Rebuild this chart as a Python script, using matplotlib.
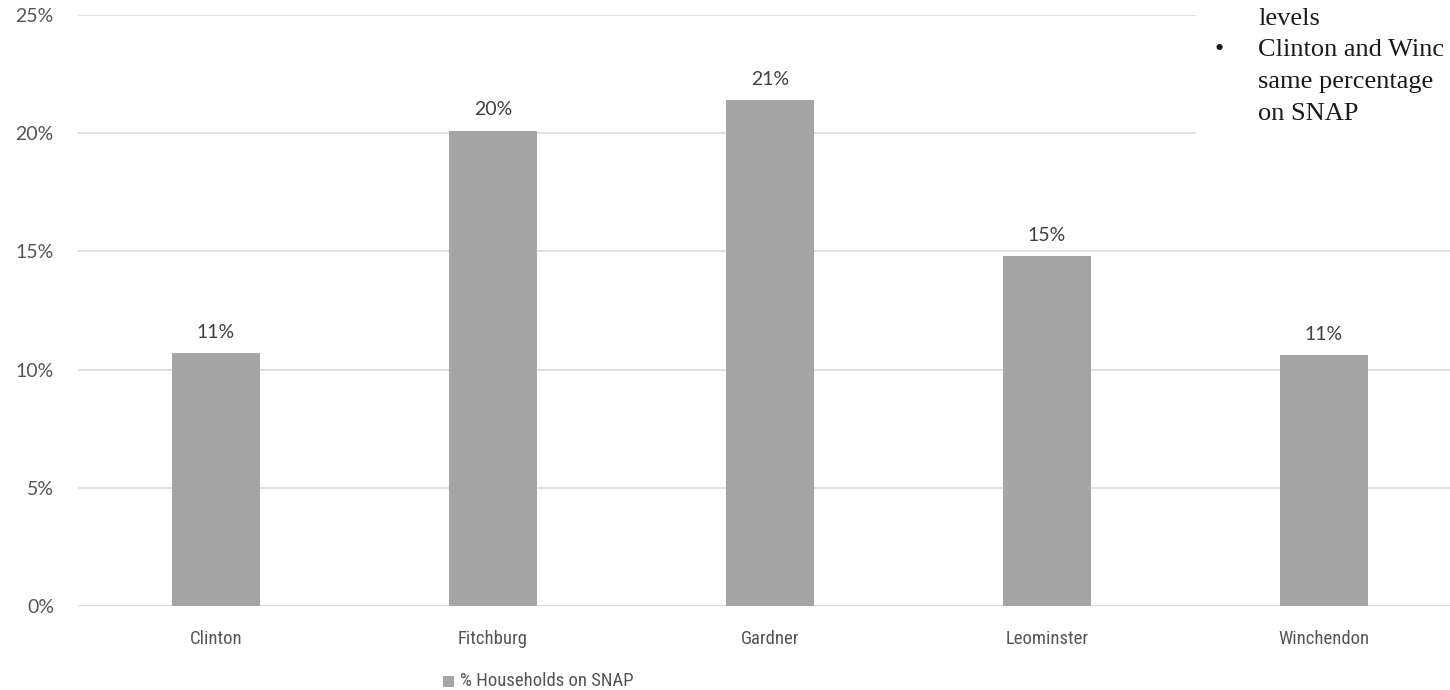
import matplotlib
matplotlib.use("Agg")
import matplotlib.pyplot as plt
from matplotlib.patches import Rectangle
from matplotlib import font_manager as fm

categories = ["Clinton", "Fitchburg", "Gardner", "Leominster", "Winchendon"]
snap_share = [10.7, 20.1, 21.4, 14.8, 10.6]
data_labels = ["11%", "20%", "21%", "15%", "11%"]
y_ticks = [0, 5, 10, 15, 20, 25]
y_tick_labels = ["0%", "5%", "10%", "15%", "20%", "25%"]
series_name = "% Households on SNAP"
note_lines = ["levels", "Clinton and Winc", "same percentage", "on SNAP"]


def pick(cands):
    for c in cands:
        try:
            fm.findfont(fm.FontProperties(family=c), fallback_to_default=False)
            return c
        except Exception:
            continue
    return "DejaVu Sans"


narrow = pick(["Roboto Condensed", "Liberation Sans Narrow", "DejaVu Sans Condensed", "Lato"])
text_font = [narrow, "DejaVu Sans"]
num_font = ["Lato", "DejaVu Sans"]
grey = "#555555"

W, H = 1450, 690
fig = plt.figure(figsize=(W / 100, H / 100), dpi=100)
fig.patch.set_facecolor("white")

ax = fig.add_axes([77.5 / W, 1 - 606 / H, 1385 / W, (606 - 15) / H])
x = range(len(categories))
ax.bar(x, snap_share, width=0.315, color="#A5A5A5", zorder=3)
ax.set_xlim(-0.5, len(categories) - 0.5)
ax.set_ylim(0, 25)
ax.set_yticks(y_ticks)
ax.set_yticklabels(y_tick_labels, fontsize=14, color=grey, family=num_font)
ax.set_xticks(list(x))
ax.set_xticklabels(categories, fontsize=13.5, color=grey, family=text_font)
ax.tick_params(axis="y", length=0, pad=17)
ax.tick_params(axis="x", length=0, pad=17)
for s in ax.spines.values():
    s.set_visible(False)
ax.yaxis.grid(True, color="#D9D9D9", linewidth=1.2, zorder=0)
ax.set_axisbelow(True)

for xi, v, lab in zip(x, snap_share, data_labels):
    ax.annotate(lab, (xi, v), xytext=(0, 9), textcoords="offset points",
                ha="center", va="bottom", fontsize=14, color="#404040", family=num_font)

# legend
fig.patches.append(Rectangle((443 / W, 1 - 687 / H), 11 / W, 11 / H,
                             transform=fig.transFigure, facecolor="#A5A5A5",
                             edgecolor="none"))
fig.text(460 / W, 1 - 681 / H, series_name, ha="left", va="center",
         fontsize=13.5, color=grey, family=text_font)

# overlapping text box from the slide
fig.patches.append(Rectangle((1196 / W, 1 - 165 / H), (W - 1196) / W, 165 / H,
                             transform=fig.transFigure, facecolor="white",
                             edgecolor="none", zorder=5))
serif = ["Liberation Serif", "DejaVu Serif"]
baselines = [25, 56, 88, 120]
for line, yy in zip(note_lines, baselines):
    fig.text(1258 / W, 1 - yy / H, line, ha="left", va="baseline",
             fontsize=19, color="#1a1a1a", family=serif, zorder=6)
fig.text(1215 / W, 1 - 56 / H, "\u2022", ha="left", va="baseline",
         fontsize=19, color="#1a1a1a", family=serif, zorder=6)

fig.savefig("out.png", dpi=100)
